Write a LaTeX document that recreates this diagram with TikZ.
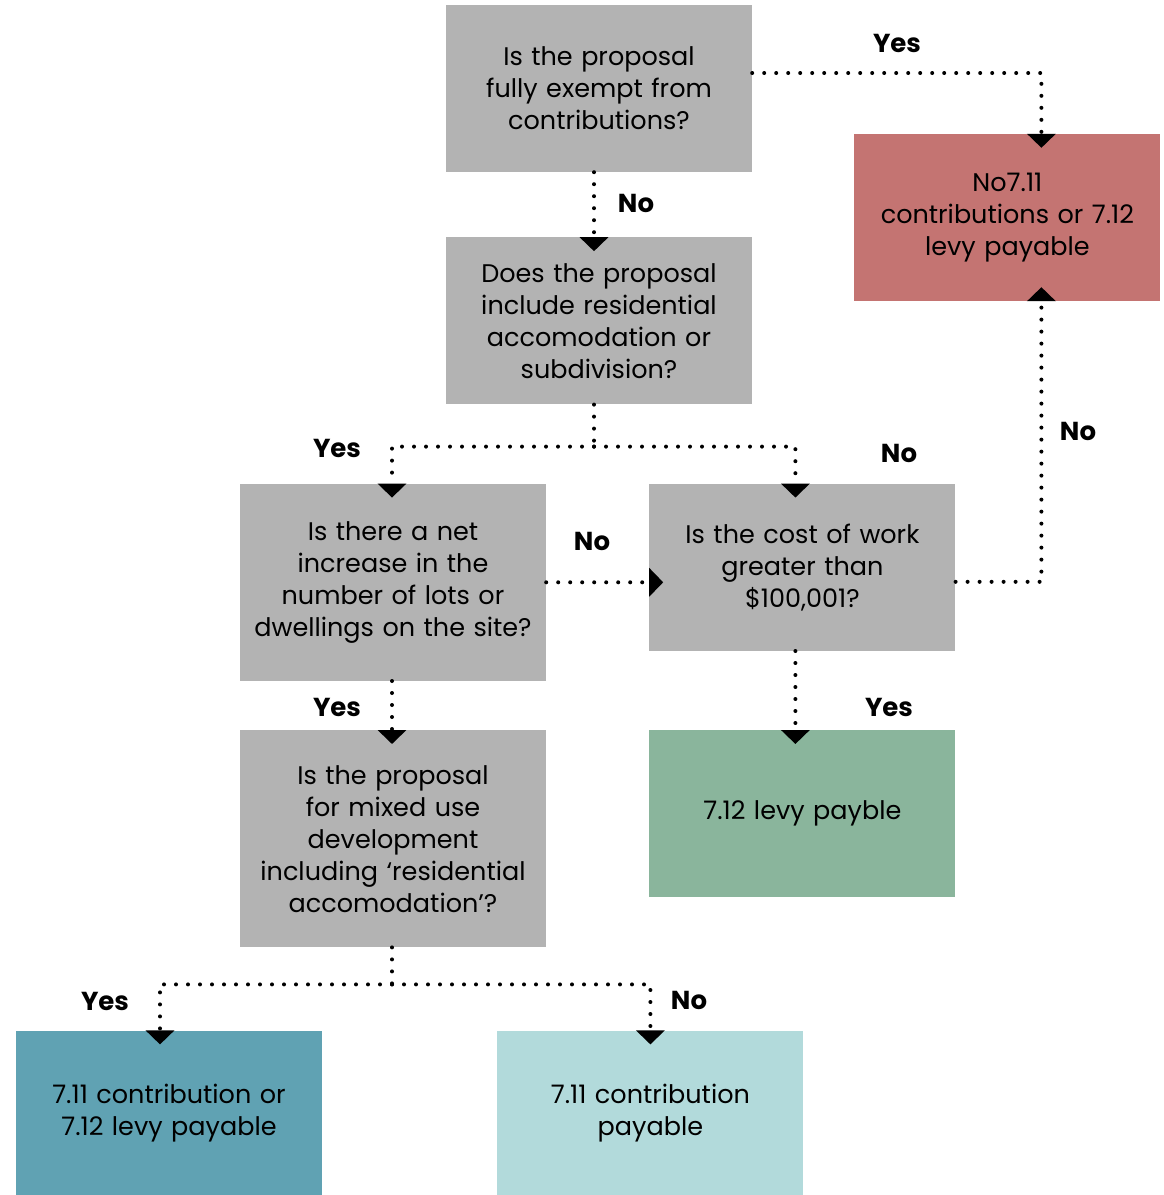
\documentclass[tikz,border=0pt]{standalone}
\usepackage{fontspec}
\setmainfont{Poppins}
\usetikzlibrary{arrows.meta,positioning,calc}
\definecolor{askc}{HTML}{B3B3B3}
\definecolor{nonec}{HTML}{C47472}
\definecolor{levyc}{HTML}{8AB59C}
\definecolor{eitherc}{HTML}{60A2B3}
\definecolor{contribc}{HTML}{B2DADB}
\tikzset{
	box/.style={
		rectangle, minimum width=306pt, minimum height=167pt, inner sep=0pt,
		text width=300pt, align=center, font=\fontsize{25.5}{32}\selectfont
	},
	%
	question/.style={box, fill=askc},
	%
	answer/.style={font=\fontsize{26}{30}\selectfont\bfseries},
	%
	flowline/.style={
		line width=4pt, dash pattern=on 0pt off 12pt, line cap=round
	},
	%
	flow/.style={
		flowline, -{Triangle[width=28pt,length=14pt]}, shorten >=-14pt
	}
}

\begin{document}
\begin{tikzpicture}[x=1pt,y=-1pt]
\useasboundingbox (0,0) rectangle (1164,1195);

\node(exempt)[question] at (599,88.5) {Is the proposal\\fully exempt from\\contributions?};
\node(nolevy)[box, right=102pt of exempt, yshift=-129pt, fill=nonec] {No7.11\\contributions or 7.12\\levy payable};
\node(resid)[question, below=65pt of exempt] {Does the proposal\\include residential\\accomodation or\\subdivision?};
\node(netinc)[question, minimum height=197pt, below=79pt of resid, xshift=-206pt] {Is there a net\\increase in the\\number of lots or\\dwellings on the site?};
\node(cost)[question, right=103pt of netinc.north east, anchor=north west] {Is the cost of work\\greater than\\\$100,001?};
\node(levy)[box, below=79pt of cost, fill=levyc] {7.12 levy payble};
\node(mixed)[question, minimum height=217pt, below=49pt of netinc] {Is the proposal\\for mixed use\\development\\including ‘residential\\accomodation’?};
\node(either)[box, minimum height=165pt, below=83pt of mixed, xshift=-224pt, fill=eitherc] {7.11 contribution or\\7.12 levy payable};
\node(contrib)[box, minimum height=165pt, right=175pt of either, fill=contribc] {7.11 contribution\\payable};

% split points
\coordinate (split1) at ($([xshift=-5pt]resid.south)+(0,42)$);
\coordinate (split2) at ($([xshift=-1pt]mixed.south)+(0,37)$);

\draw[flow] ([yshift=15.5pt]exempt.east) -| ([xshift=34pt]nolevy.north);
\draw[flow] ([xshift=-5pt]exempt.south) -- ([xshift=-5pt]resid.north);
\draw[flowline] ([xshift=-5pt]resid.south) -- (split1);
\draw[flow] (split1) -| ([xshift=-1pt]netinc.north);
\draw[flow] (split1) -| ([xshift=-7pt]cost.north);
\draw[flow] (netinc.east) -- (netinc.east -| cost.west);
\draw[flow] ([yshift=-14.5pt]cost.east) -| ([xshift=34pt]nolevy.south);
\draw[flow] ([xshift=-7pt]cost.south) -- ([xshift=-7pt]levy.north);
\draw[flow] ([xshift=-1pt]netinc.south) -- ([xshift=-1pt]mixed.north);
\draw[flowline] ([xshift=-1pt]mixed.south) -- (split2);
\draw[flow] (split2) -| ([xshift=-9pt]either.north);
\draw[flow] (split2) -| (contrib.north);

\node(yes1)[answer] at (897,43) {Yes};
\node(no1)[answer] at (636,203) {No};
\node(yes2)[answer] at (337,448) {Yes};
\node(no2)[answer] at (899,453) {No};
\node(no3)[answer] at (592,541) {No};
\node(no4)[answer] at (1078,431) {No};
\node(yes3)[answer] at (337,707) {Yes};
\node(yes4)[answer] at (889,707) {Yes};
\node(yes5)[answer] at (105,1001) {Yes};
\node(no5)[answer] at (689,1000) {No};
\end{tikzpicture}
\end{document}
